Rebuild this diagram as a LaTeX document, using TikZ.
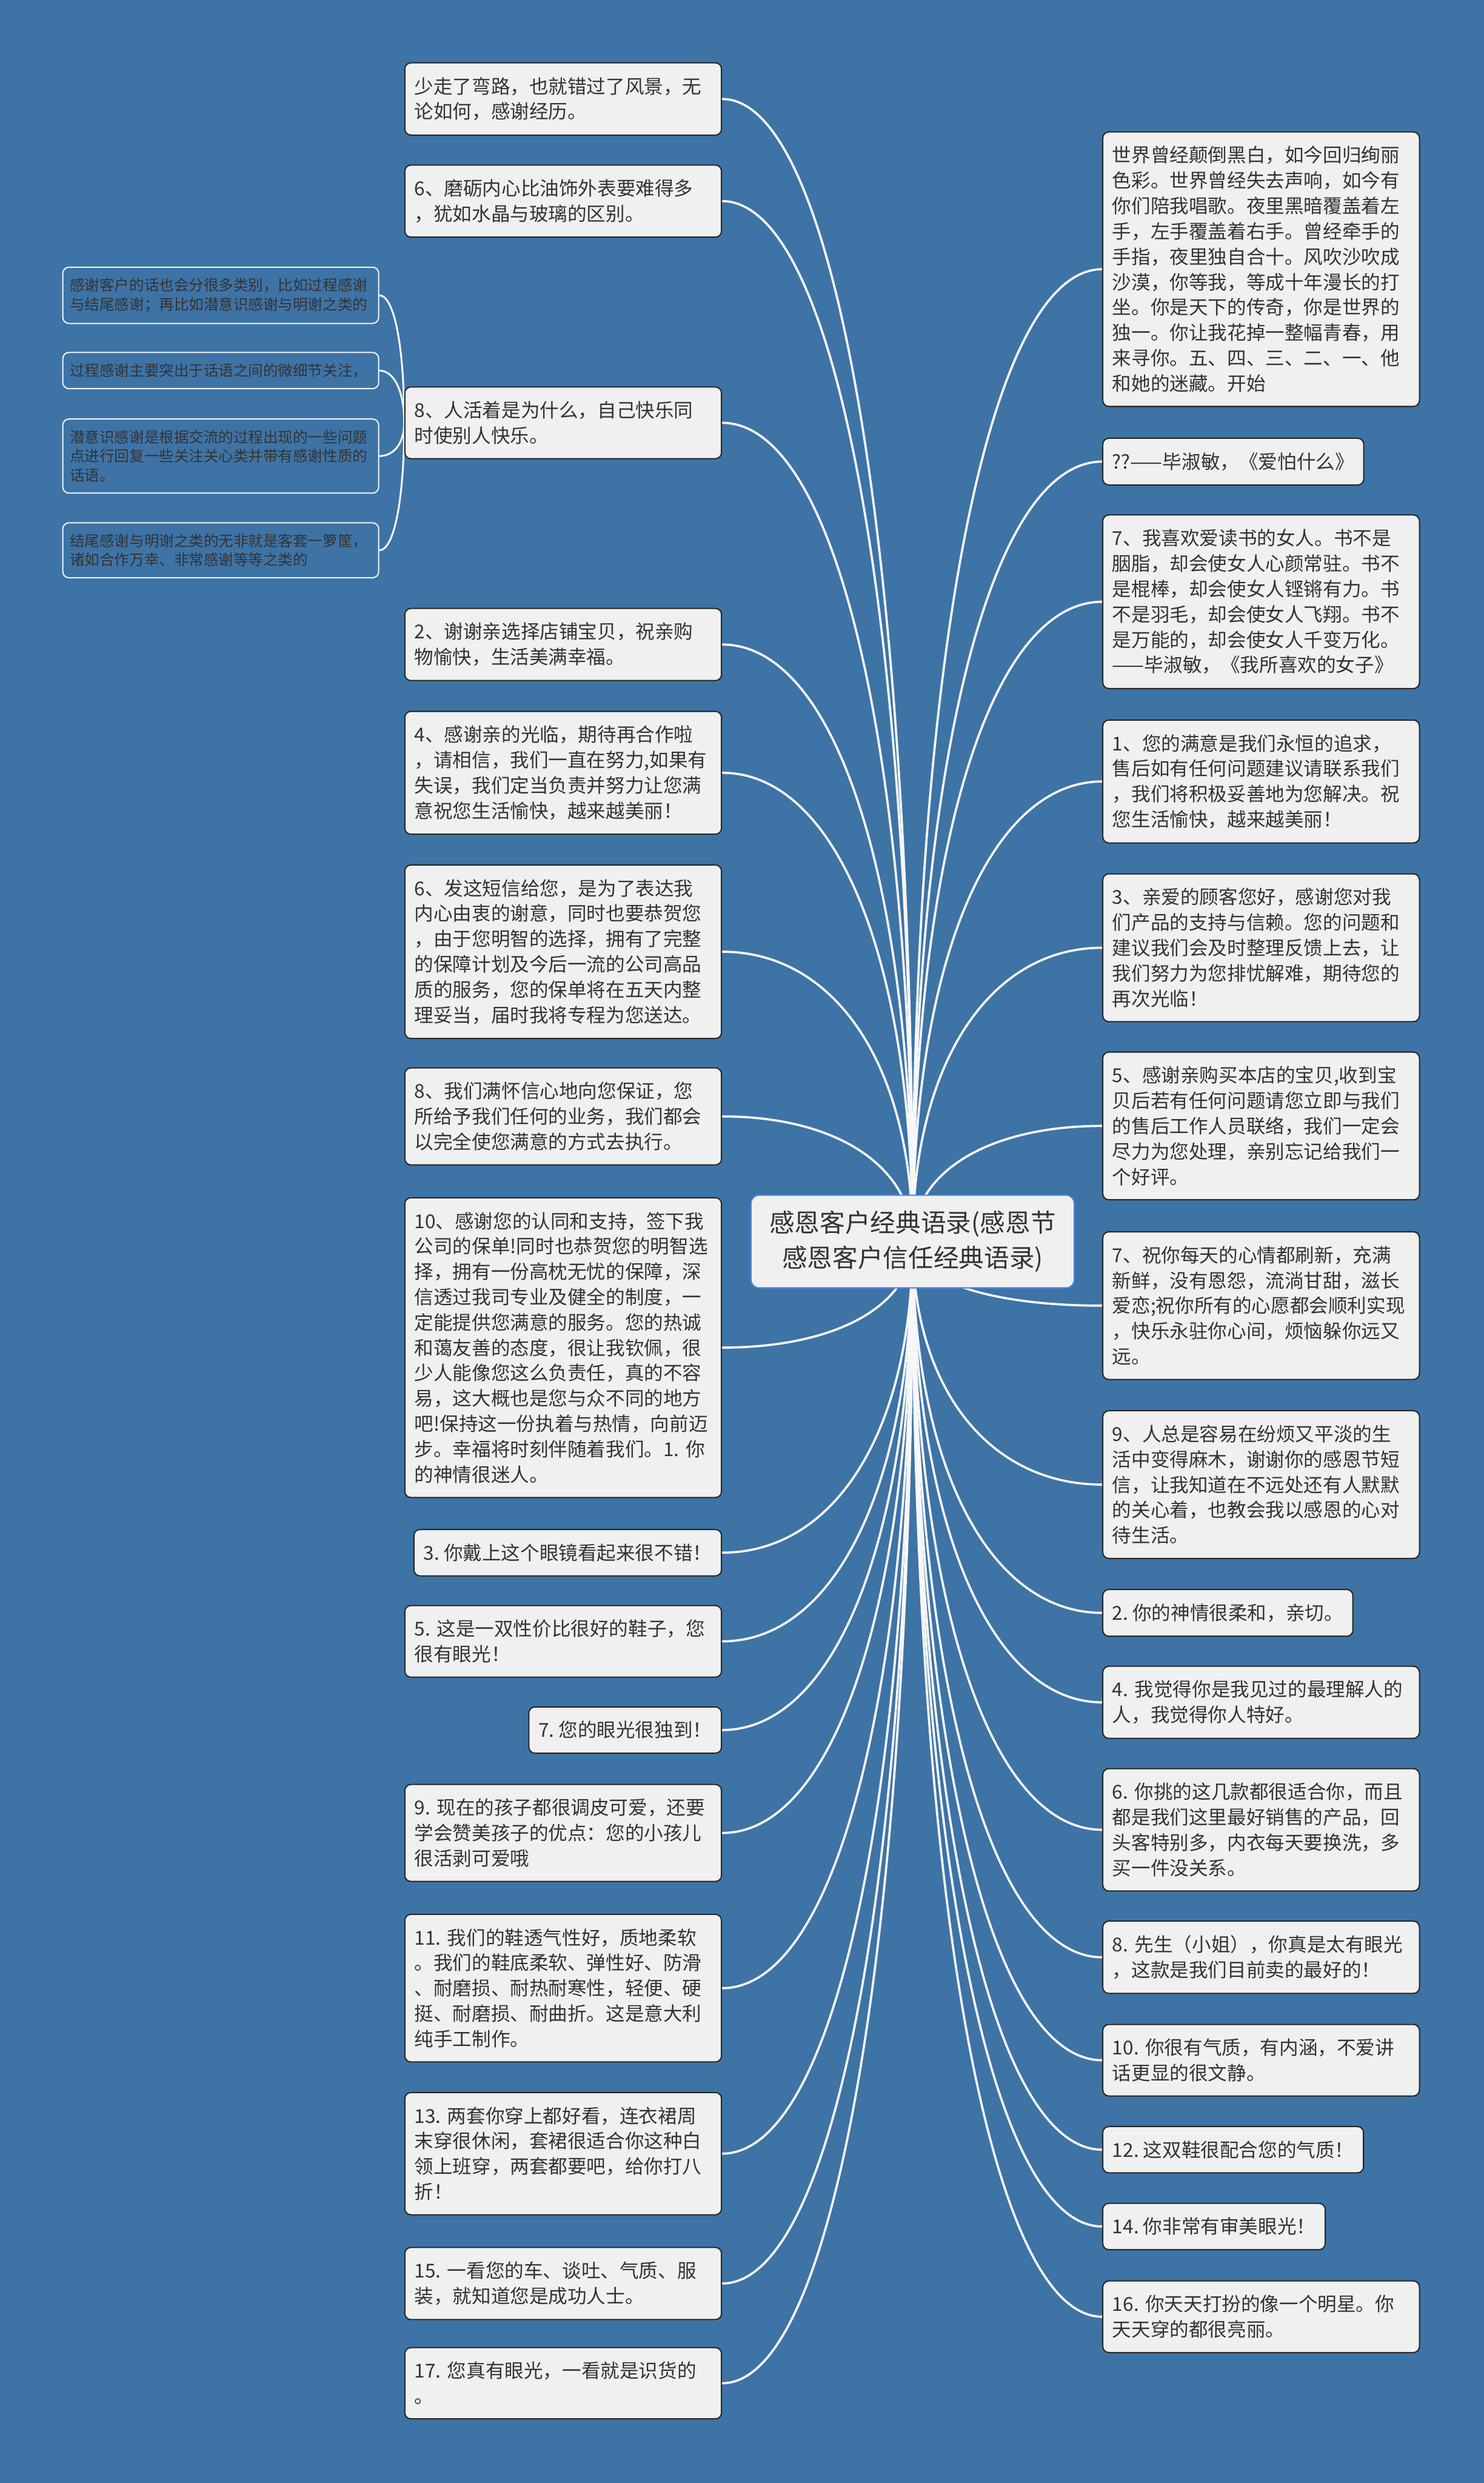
\documentclass[tikz,border=0pt]{standalone}
\usepackage{fontspec}
\setmainfont{Noto Sans CJK SC}
\usetikzlibrary{calc,positioning}
\definecolor{sea}{RGB}{62,115,166}
\definecolor{ink}{RGB}{51,51,51}
\definecolor{paper}{RGB}{240,240,240}
\definecolor{rim}{RGB}{74,134,232}
\pgfdeclarelayer{wires}
\pgfsetlayers{wires,main}

\begin{document}
\begin{tikzpicture}[x=0.02732cm,y=-0.02732cm]
    \tikzstyle{leaf} = [draw=black!85,line width=0.6pt,fill=paper,text=ink,rounded corners=3pt,
        font=\fontsize{9.4pt}{12.44pt}\selectfont,inner xsep=4.7pt,inner ysep=7pt,text width=146pt,align=left]
    \tikzstyle{tag} = [leaf,text width=]
    \tikzstyle{note} = [draw=white!92!sea,line width=0.6pt,text=ink,rounded corners=3pt,
        font=\fontsize{7.3pt}{9.4pt}\selectfont,inner xsep=3.5pt,inner ysep=5.4pt,text width=148pt,align=left]
    \tikzstyle{core} = [draw=rim,line width=0.6pt,fill=paper,text=ink,rounded corners=4pt,
        font=\fontsize{12.4pt}{17.1pt}\selectfont,align=center,minimum width=158.6pt,minimum height=45.5pt]
    \tikzstyle{branch} = [draw=white!97!black,line width=1.1pt,
        to path={.. controls ($(\tikztostart)!0.6!(\tikztostart |- \tikztotarget)$)
                 and ($(\tikztotarget)!0.6!(\tikztostart |- \tikztotarget)$) .. (\tikztotarget)}]
    \tikzstyle{stalk} = [branch,line width=0.9pt]

    \useasboundingbox (0,0) rectangle (937,1568);
    \begin{pgfonlayer}{wires}
        \fill[sea] (0,0) rectangle (937,1568);
    \end{pgfonlayer}

    \node[core] (root) at (576.3,784) {感恩客户经典语录(感恩节\\感恩客户信任经典语录)};

    % left side
    \node[leaf,anchor=east] (scenery) at (456,62.5) {少走了弯路，也就错过了风景，无\\论如何，感谢经历。};
    \node[leaf,anchor=east] (crystal) at (456,127) {6、磨砺内心比油饰外表要难得多\\，犹如水晶与玻璃的区别。};
    \node[leaf,anchor=east] (happy) at (456,267) {8、人活着是为什么，自己快乐同\\时使别人快乐。};
    \node[note,anchor=east] (kinds) at (239.5,186.5) {感谢客户的话也会分很多类别，比如过程感谢\\与结尾感谢；再比如潜意识感谢与明谢之类的};
    \node[note,anchor=east] (process) at (239.5,234) {过程感谢主要突出于话语之间的微细节关注，};
    \node[note,anchor=east] (subcon) at (239.5,288) {潜意识感谢是根据交流的过程出现的一些问题\\点进行回复一些关注关心类并带有感谢性质的\\话语。};
    \node[note,anchor=east] (closing) at (239.5,347.5) {结尾感谢与明谢之类的无非就是客套一箩筐，\\诸如合作万幸、非常感谢等等之类的};
    \node[leaf,anchor=east] (shopping) at (456,407) {2、谢谢亲选择店铺宝贝，祝亲购\\物愉快，生活美满幸福。};
    \node[leaf,anchor=east] (visit) at (456,488) {4、感谢亲的光临，期待再合作啦\\，请相信，我们一直在努力,如果有\\失误，我们定当负责并努力让您满\\意祝您生活愉快，越来越美丽！};
    \node[leaf,anchor=east] (sms) at (456,601) {6、发这短信给您，是为了表达我\\内心由衷的谢意，同时也要恭贺您\\，由于您明智的选择，拥有了完整\\的保障计划及今后一流的公司高品\\质的服务，您的保单将在五天内整\\理妥当，届时我将专程为您送达。};
    \node[leaf,anchor=east] (promise) at (456,705) {8、我们满怀信心地向您保证，您\\所给予我们任何的业务，我们都会\\以完全使您满意的方式去执行。};
    \node[leaf,anchor=east] (policy) at (456,851) {10、感谢您的认同和支持，签下我\\公司的保单!同时也恭贺您的明智选\\择，拥有一份高枕无忧的保障，深\\信透过我司专业及健全的制度，一\\定能提供您满意的服务。您的热诚\\和蔼友善的态度，很让我钦佩，很\\少人能像您这么负责任，真的不容\\易，这大概也是您与众不同的地方\\吧!保持这一份执着与热情，向前迈\\步。幸福将时刻伴随着我们。1.~你\\的神情很迷人。};
    \node[tag,anchor=east] (glasses) at (456,980.5) {3.~你戴上这个眼镜看起来很不错！};
    \node[leaf,anchor=east] (shoes) at (456,1036.5) {5.~这是一双性价比很好的鞋子，您\\很有眼光！};
    \node[tag,anchor=east] (taste) at (456,1092.5) {7.~您的眼光很独到！};
    \node[leaf,anchor=east] (kids) at (456,1157.5) {9.~现在的孩子都很调皮可爱，还要\\学会赞美孩子的优点：您的小孩儿\\很活剥可爱哦};
    \node[leaf,anchor=east] (breathe) at (456,1255.5) {11.~我们的鞋透气性好，质地柔软\\。我们的鞋底柔软、弹性好、防滑\\、耐磨损、耐热耐寒性，轻便、硬\\挺、耐磨损、耐曲折。这是意大利\\纯手工制作。};
    \node[leaf,anchor=east] (dresses) at (456,1360) {13.~两套你穿上都好看，连衣裙周\\末穿很休闲，套裙很适合你这种白\\领上班穿，两套都要吧，给你打八\\折！};
    \node[leaf,anchor=east] (success) at (456,1442) {15.~一看您的车、谈吐、气质、服\\装，就知道您是成功人士。};
    \node[leaf,anchor=east] (goods) at (456,1505) {17.~您真有眼光，一看就是识货的\\。};

    % right side
    \node[leaf,anchor=west] (legend) at (696,170) {世界曾经颠倒黑白，如今回归绚丽\\色彩。世界曾经失去声响，如今有\\你们陪我唱歌。夜里黑暗覆盖着左\\手，左手覆盖着右手。曾经牵手的\\手指，夜里独自合十。风吹沙吹成\\沙漠，你等我，等成十年漫长的打\\坐。你是天下的传奇，你是世界的\\独一。你让我花掉一整幅青春，用\\来寻你。五、四、三、二、一、他\\和她的迷藏。开始};
    \node[tag,anchor=west] (lovefear) at (696,291.5) {??——毕淑敏，《爱怕什么》};
    \node[leaf,anchor=west] (reader) at (696,380) {7、我喜欢爱读书的女人。书不是\\胭脂，却会使女人心颜常驻。书不\\是棍棒，却会使女人铿锵有力。书\\不是羽毛，却会使女人飞翔。书不\\是万能的，却会使女人千变万化。\\——毕淑敏，《我所喜欢的女子》};
    \node[leaf,anchor=west] (pursuit) at (696,493.5) {1、您的满意是我们永恒的追求，\\售后如有任何问题建议请联系我们\\，我们将积极妥善地为您解决。祝\\您生活愉快，越来越美丽！};
    \node[leaf,anchor=west] (client) at (696,598.5) {3、亲爱的顾客您好，感谢您对我\\们产品的支持与信赖。您的问题和\\建议我们会及时整理反馈上去，让\\我们努力为您排忧解难，期待您的\\再次光临！};
    \node[leaf,anchor=west] (review) at (696,711) {5、感谢亲购买本店的宝贝,收到宝\\贝后若有任何问题请您立即与我们\\的售后工作人员联络，我们一定会\\尽力为您处理，亲别忘记给我们一\\个好评。};
    \node[leaf,anchor=west] (wishes) at (696,824.5) {7、祝你每天的心情都刷新，充满\\新鲜，没有恩怨，流淌甘甜，滋长\\爱恋;祝你所有的心愿都会顺利实现\\，快乐永驻你心间，烦恼躲你远又\\远。};
    \node[leaf,anchor=west] (numb) at (696,937.5) {9、人总是容易在纷烦又平淡的生\\活中变得麻木，谢谢你的感恩节短\\信，让我知道在不远处还有人默默\\的关心着，也教会我以感恩的心对\\待生活。};
    \node[tag,anchor=west] (gentle) at (696,1018.5) {2.~你的神情很柔和，亲切。};
    \node[leaf,anchor=west] (kindest) at (696,1075) {4.~我觉得你是我见过的最理解人的\\人，我觉得你人特好。};
    \node[leaf,anchor=west] (picks) at (696,1155.5) {6.~你挑的这几款都很适合你，而且\\都是我们这里最好销售的产品，回\\头客特别多，内衣每天要换洗，多\\买一件没关系。};
    \node[leaf,anchor=west] (bestseller) at (696,1236) {8.~先生（小姐），你真是太有眼光\\，这款是我们目前卖的最好的！};
    \node[leaf,anchor=west] (quiet) at (696,1301) {10.~你很有气质，有内涵，不爱讲\\话更显的很文静。};
    \node[tag,anchor=west] (match) at (696,1357.5) {12.~这双鞋很配合您的气质！};
    \node[tag,anchor=west] (aesthetic) at (696,1406) {14.~你非常有审美眼光！};
    \node[leaf,anchor=west] (star) at (696,1463) {16.~你天天打扮的像一个明星。你\\天天穿的都很亮丽。};

    \begin{pgfonlayer}{wires}
    \draw[branch] (root.center) to (scenery.east);
    \draw[branch] (root.center) to (crystal.east);
    \draw[branch] (root.center) to (happy.east);
    \draw[branch] (root.center) to (shopping.east);
    \draw[branch] (root.center) to (visit.east);
    \draw[branch] (root.center) to (sms.east);
    \draw[branch] (root.center) to (promise.east);
    \draw[branch] (root.center) to (policy.east);
    \draw[branch] (root.center) to (glasses.east);
    \draw[branch] (root.center) to (shoes.east);
    \draw[branch] (root.center) to (taste.east);
    \draw[branch] (root.center) to (kids.east);
    \draw[branch] (root.center) to (breathe.east);
    \draw[branch] (root.center) to (dresses.east);
    \draw[branch] (root.center) to (success.east);
    \draw[branch] (root.center) to (goods.east);
    \draw[branch] (root.center) to (legend.west);
    \draw[branch] (root.center) to (lovefear.west);
    \draw[branch] (root.center) to (reader.west);
    \draw[branch] (root.center) to (pursuit.west);
    \draw[branch] (root.center) to (client.west);
    \draw[branch] (root.center) to (review.west);
    \draw[branch] (root.center) to (wishes.west);
    \draw[branch] (root.center) to (numb.west);
    \draw[branch] (root.center) to (gentle.west);
    \draw[branch] (root.center) to (kindest.west);
    \draw[branch] (root.center) to (picks.west);
    \draw[branch] (root.center) to (bestseller.west);
    \draw[branch] (root.center) to (quiet.west);
    \draw[branch] (root.center) to (match.west);
    \draw[branch] (root.center) to (aesthetic.west);
    \draw[branch] (root.center) to (star.west);
    \draw[stalk] (happy.west) to (kinds.east);
    \draw[stalk] (happy.west) to (process.east);
    \draw[stalk] (happy.west) to (subcon.east);
    \draw[stalk] (happy.west) to (closing.east);
    \end{pgfonlayer}
\end{tikzpicture}
\end{document}
